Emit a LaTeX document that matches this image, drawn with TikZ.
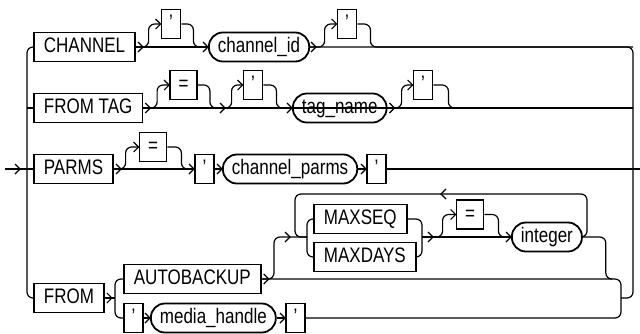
\documentclass[tikz,border=0pt]{standalone}
\usepackage{fontspec}
\setmainfont[FakeStretch=0.81]{Liberation Sans}
\usetikzlibrary{calc}

\tikzset{chevron/.pic={\draw[line width=1.2pt] (-5pt,5pt) -- (0pt,0pt) -- (-5pt,-5pt);}}

\begin{document}
\begin{tikzpicture}[x=1pt, y=-1pt, line width=1.2pt,
    rail/.style={rounded corners=6pt},
    kw/.style={draw, line width=1.8pt, inner xsep=10pt, inner ysep=0pt,
      minimum height=29pt, text height=15pt, text depth=4pt,
      font=\fontsize{21}{25}\selectfont},
    tick/.style={kw, inner xsep=0pt, minimum width=19pt},
    eqbox/.style={kw, inner xsep=0pt, minimum width=27pt},
    oval/.style={kw, rounded corners=14pt, inner xsep=9pt}]

        \useasboundingbox (0,0) rectangle (640,333);

        % Define the rails on both sides
        \coordinate (Start) at (5,169);
        \coordinate (LeftRail) at (27,169);
        \coordinate (RightTop) at (633,47);
        \coordinate (RightRail) at (633,169);
        \coordinate (Finish) at (640,169);

        % CHANNEL row
        \node[kw, anchor=west] (Channel) at (33,47) {CHANNEL};
        \node[tick] (QuoteA) at (171,24) {'};
        \node[oval, anchor=west] (ChannelId) at (208,47) {channel\_id};
        \node[tick] (QuoteB) at (347,24) {'};

        % FROM TAG row
        \node[kw, anchor=west] (FromTag) at (33,108) {FROM TAG};
        \node[eqbox] (EqA) at (183.5,85) {=};
        \node[tick] (QuoteC) at (253,85) {'};
        \node[oval, anchor=west] (TagName) at (292,108) {tag\_name};
        \node[tick] (QuoteD) at (423,85) {'};

        % PARMS row
        \node[kw, anchor=west] (Parms) at (33,169) {PARMS};
        \node[eqbox] (EqB) at (153,147) {=};
        \node[tick, anchor=west] (QuoteE) at (194,169) {'};
        \node[oval, anchor=west] (ChannelParms) at (222,169) {channel\_parms};
        \node[tick, anchor=west] (QuoteF) at (366,169) {'};

        % FROM row with its two choices
        \node[kw, anchor=west] (From) at (33,298) {FROM};
        \coordinate (FromSplit) at (115,298);
        \coordinate (FromJoin) at (621,298);
        \node[kw, anchor=west] (AutoBackup) at (123,279) {AUTOBACKUP};
        \node[tick, anchor=west] (QuoteG) at (123,318) {'};
        \node[oval, anchor=west] (MediaHandle) at (150,318) {media\_handle};
        \node[tick, anchor=west] (QuoteH) at (285,318) {'};

        % The repeated MAXSEQ / MAXDAYS part
        \node[kw, anchor=west] (MaxSeq) at (313,219) {MAXSEQ};
        \node[kw, anchor=west] (MaxDays) at (313,257) {MAXDAYS};
        \node[eqbox] (EqC) at (470,214.5) {=};
        \node[oval, anchor=west] (Integer) at (511,237) {integer};
        \coordinate (ChoiceIn) at (307,237);
        \coordinate (ChoiceOut) at (422,237);
        \coordinate (LoopLeft) at (295,194);
        \coordinate (LoopRight) at (587,194);
        \coordinate (LoopExit) at (612,279);

        % Outer rails
        \draw[rail] (Start) -- (Parms.west);
        \draw[rail] (Channel.west) -| (LeftRail) |- (From.west);
        \draw[rail] (LeftRail |- FromTag.west) -- (FromTag.west);
        \draw[rail] (ChannelId.east) -| (RightRail) |- (FromJoin);
        \draw[rail] (QuoteF.east) -- (Finish);

        % CHANNEL row lines
        \draw[rail] (Channel.east) -- (ChannelId.west);
        \draw[rail] (QuoteA.west) -- ++(-12,0) |- (Channel.east);
        \draw[rail] (QuoteA.east) -- ++(12,0) |- (ChannelId.west);
        \draw[rail] (QuoteB.west) -- ++(-12,0) |- (ChannelId.east);
        \draw[rail] (QuoteB.east) -- ++(13,0) |- (RightTop);

        % FROM TAG row lines
        \draw[rail] (FromTag.east) -- (RightRail |- FromTag.east);
        \draw[rail] (EqA.west) -- ++(-12,0) |- (FromTag.east);
        \draw[rail] (EqA.east) -- ++(12,0) |- (TagName.west);
        \draw[rail] (QuoteC.west) -- ++(-11,0) |- (FromTag.east);
        \draw[rail] (QuoteC.east) -- ++(13,0) |- (TagName.west);
        \draw[rail] (QuoteD.west) -- ++(-11,0) |- (TagName.east);
        \draw[rail] (QuoteD.east) -- ++(15,0) |- (RightRail |- FromTag.east);

        % PARMS row lines
        \draw[rail] (Parms.east) -- (QuoteE.west);
        \draw[rail] (EqB.west) -- ++(-13,0) |- (Parms.east);
        \draw[rail] (EqB.east) -- ++(14,0) |- (QuoteE.west);
        \draw[rail] (QuoteE.east) -- (ChannelParms.west);
        \draw[rail] (ChannelParms.east) -- (QuoteF.west);

        % FROM row lines
        \draw[rail] (From.east) -- (FromSplit);
        \draw[rail] (AutoBackup.west) -| (FromSplit) |- (QuoteG.west);
        \draw[rail] (QuoteG.east) -- (MediaHandle.west);
        \draw[rail] (MediaHandle.east) -- (QuoteH.west);
        \draw[rail] (AutoBackup.east) -| (FromJoin) |- (QuoteH.east);
        \draw[rail] (ChoiceIn) -- ++(-33,0) |- (AutoBackup.east);
        \draw[rail] (MaxSeq.west) -| (ChoiceIn) |- (MaxDays.west);
        \draw[rail] (MaxSeq.east) -| (ChoiceOut) |- (MaxDays.east);
        \draw[rail] (ChoiceOut) -- (Integer.west);
        \draw[rail] (EqC.west) -- ++(-13,0) |- (ChoiceOut);
        \draw[rail] (EqC.east) -- ++(14,0) |- (Integer.west);
        \draw[rail] (Integer.east) -| (LoopRight) -- (LoopLeft) |- (ChoiceIn);
        \draw[rail] (Integer.east) -- ++(23,0) |- (LoopExit);

        % Arrow heads along the rails
        \pic at ([xshift=15pt]Start) {chevron};
        \pic at ([xshift=7pt]Channel.east) {chevron};
        \pic at (QuoteA.west) {chevron};
        \pic at (ChannelId.west) {chevron};
        \pic at ([xshift=6pt]ChannelId.east) {chevron};
        \pic at (QuoteB.west) {chevron};
        \pic at ([xshift=7pt]FromTag.east) {chevron};
        \pic at (EqA.west) {chevron};
        \pic at ([xshift=-67pt]TagName.west) {chevron};
        \pic at (QuoteC.west) {chevron};
        \pic at (TagName.west) {chevron};
        \pic at ([xshift=7pt]TagName.east) {chevron};
        \pic at (QuoteD.west) {chevron};
        \pic at ([xshift=7pt]Parms.east) {chevron};
        \pic at (EqB.west) {chevron};
        \pic at (QuoteE.west) {chevron};
        \pic at (ChannelParms.west) {chevron};
        \pic at (QuoteF.west) {chevron};
        \pic at ([xshift=7pt]From.east) {chevron};
        \pic at (MediaHandle.west) {chevron};
        \pic at (QuoteH.west) {chevron};
        \pic at ([xshift=7pt]AutoBackup.east) {chevron};
        \pic at ([xshift=-17pt]ChoiceIn) {chevron};
        \pic at ([xshift=11pt]ChoiceOut) {chevron};
        \pic at (EqC.west) {chevron};
        \pic at (Integer.west) {chevron};
        \pic[rotate=180] at ($(LoopLeft)!0.5!(LoopRight)$) {chevron};

      \end{tikzpicture}
\end{document}
